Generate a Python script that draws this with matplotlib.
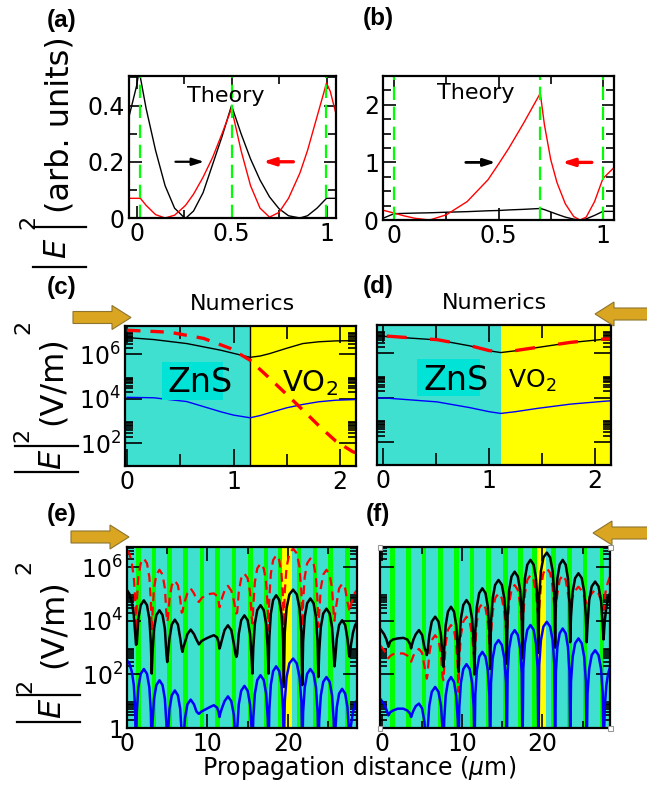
import numpy as np
import matplotlib
matplotlib.use("Agg")
import matplotlib.pyplot as plt
from matplotlib.patches import Polygon, Rectangle
from matplotlib.lines import Line2D
from matplotlib.ticker import FixedLocator, NullFormatter

# ---------------- data ----------------
# (a) theory, unit cell
A_X = [-0.04, 0.0, 0.01, 0.02, 0.05, 0.10, 0.15, 0.20, 0.25, 0.26, 0.30, 0.35, 0.40, 0.45, 0.50,
       0.55, 0.60, 0.65, 0.70, 0.75, 0.80, 0.86, 0.90, 0.95, 1.0, 1.02, 1.05]
A_BLACK = [0.36, 0.47, 0.51, 0.50, 0.39, 0.24, 0.115, 0.035, 0.002, 0.0, 0.025, 0.09, 0.19, 0.29, 0.40,
           0.30, 0.21, 0.135, 0.075, 0.033, 0.008, 0.0, 0.008, 0.035, 0.07, 0.07, 0.07]
A_RED = [0.07, 0.07, 0.07, 0.07, 0.045, 0.012, 0.0, 0.01, 0.04, 0.047, 0.085, 0.145, 0.215, 0.30, 0.39,
         0.24, 0.115, 0.035, 0.003, 0.02, 0.07, 0.16, 0.24, 0.36, 0.48, 0.45, 0.37]
A_INTERFACES = [0.02, 0.5, 0.995]

# (b) theory, defect cell
B_X = [-0.053, 0.0, 0.05, 0.10, 0.17, 0.25, 0.35, 0.45, 0.50, 0.55, 0.62, 0.70, 0.72, 0.75, 0.78,
       0.82, 0.86, 0.89, 0.92, 0.96, 1.0, 1.05]
B_RED = [0.17, 0.12, 0.07, 0.03, 0.0, 0.09, 0.32, 0.70, 0.97, 1.25, 1.68, 2.2, 1.65, 1.05, 0.65,
         0.28, 0.06, 0.0, 0.05, 0.32, 0.72, 0.9]
B_BLACK = [0.03, 0.11, 0.115, 0.12, 0.125, 0.135, 0.145, 0.16, 0.165, 0.175, 0.185, 0.2, 0.18, 0.14, 0.1,
           0.05, 0.015, 0.0, 0.02, 0.08, 0.15, 0.15]
B_INTERFACES = [0.0, 0.70, 1.0]

# (c) numerics, forward incidence (log10 of |E|^2)
C_X = [0.0, 0.25, 0.56, 0.88, 1.0, 1.155, 1.25, 1.34, 1.5, 1.65, 1.8, 1.96, 2.15]
C_BLACK = [6.76, 6.67, 6.49, 6.19, 6.05, 5.87, 5.93, 6.04, 6.28, 6.49, 6.57, 6.61, 6.62]
C_BLUE = [4.07, 4.05, 3.88, 3.42, 3.27, 3.15, 3.25, 3.38, 3.6, 3.75, 3.87, 3.94, 3.97]
C_RX = [0.0, 0.4, 0.72, 0.97, 1.155, 1.34, 1.56, 1.81, 1.96, 2.12, 2.15]
C_RED = [7.09, 7.0, 6.72, 6.27, 5.74, 4.92, 3.92, 2.75, 2.1, 1.62, 1.58]
C_IFACE = 1.155

# (d) numerics, backward incidence
D_X = [-0.057, 0.035, 0.51, 0.82, 1.0, 1.11, 1.25, 1.46, 1.77, 2.09, 2.15]
D_BLACK = [6.78, 6.76, 6.61, 6.34, 6.12, 6.04, 6.12, 6.27, 6.49, 6.64, 6.65]
D_RX = [0.035, 0.51, 0.82, 1.0, 1.11, 1.25, 1.46, 1.77, 2.09, 2.15]
D_RED = [6.78, 6.62, 6.35, 6.13, 6.05, 6.13, 6.28, 6.5, 6.65, 6.66]
D_BLUE = [4.0, 3.99, 3.82, 3.56, 3.38, 3.3, 3.38, 3.53, 3.72, 3.85, 3.87]
D_IFACE = 1.11

# (e) full structure, forward incidence (log10 of |E|^2), one row per lobe
E_X = [0.0, 0.3, 0.6, 0.85, 1.0, 1.12,
       1.22, 1.41, 1.705, 2.095, 2.485, 2.78, 2.97, 3.07,
       3.17, 3.36, 3.65, 4.035, 4.42, 4.71, 4.90, 5.0,
       5.095, 5.285, 5.57, 5.95, 6.33, 6.615, 6.805, 6.9,
       7.0, 7.21, 7.51, 7.92, 8.33, 8.63, 8.84, 8.94,
       9.3, 9.8, 10.3, 10.8, 11.2, 11.38, 11.5,
       11.605, 11.815, 12.13, 12.55, 12.97, 13.285, 13.495, 13.6,
       13.7, 13.9, 14.2, 14.6, 15.0, 15.3, 15.5, 15.6,
       15.7, 15.9, 16.2, 16.6, 17.0, 17.3, 17.5, 17.6,
       17.695, 17.885, 18.17, 18.55, 18.93, 19.215, 19.405, 19.5,
       19.615, 19.845, 20.19, 20.65, 21.11, 21.455, 21.685, 21.8,
       21.9, 22.1, 22.4, 22.8, 23.2, 23.5, 23.7, 23.8,
       23.9, 24.1, 24.4, 24.8, 25.2, 25.5, 25.7, 25.8,
       25.895, 26.085, 26.37, 26.75, 27.13, 27.415, 27.605, 27.7,
       27.85, 28.1, 28.35, 28.6]
E_BLACK = [5.14, 5.0, 4.7, 4.2, 3.6, 3.1,
           3.15, 4.07, 4.58, 4.76, 4.58, 4.07, 3.15, 2.03,
           2.78, 3.70, 4.21, 4.39, 4.21, 3.70, 2.78, 2.46,
           2.75, 3.35, 3.86, 4.04, 3.86, 3.35, 2.95, 2.84,
           3.0, 3.2, 3.5, 3.67, 3.5, 3.3, 3.18, 3.12,
           3.25, 3.33, 3.4, 3.46, 3.38, 3.2, 2.96,
           3.05, 3.3, 3.65, 3.83, 3.65, 3.14, 2.75, 2.65,
           2.75, 3.51, 4.02, 4.2, 4.02, 3.51, 2.6, 2.03,
           2.97, 3.89, 4.4, 4.58, 4.4, 3.89, 2.97, 2.03,
           3.34, 4.26, 4.77, 4.95, 4.77, 4.26, 3.34, 1.53,
           3.55, 4.47, 4.98, 5.16, 4.98, 4.47, 3.55, 1.6,
           3.22, 4.14, 4.65, 4.83, 4.65, 4.14, 3.22, 1.9,
           2.84, 3.76, 4.27, 4.45, 4.27, 3.76, 2.84, 2.3,
           2.6, 3.33, 3.84, 4.02, 3.84, 3.33, 2.75, 2.65,
           3.1, 3.55, 3.82, 3.96]
E_RED = [6.63, 6.5, 6.15, 5.6, 4.9, 3.58,
         4.71, 5.63, 6.14, 6.32, 6.14, 5.63, 4.71, 3.64,
         4.29, 5.21, 5.72, 5.9, 5.72, 5.21, 4.29, 3.96,
         4.1, 4.81, 5.32, 5.5, 5.32, 4.81, 4.3, 4.33,
         4.5, 4.75, 5.02, 5.2, 5.02, 4.8, 4.72, 4.7,
         4.85, 4.95, 5.0, 5.02, 4.92, 4.75, 4.5,
         4.6, 4.85, 5.12, 5.3, 5.12, 4.75, 4.4, 4.27,
         4.3, 5.07, 5.58, 5.76, 5.58, 5.07, 4.15, 3.9,
         4.52, 5.44, 5.95, 6.13, 5.95, 5.44, 4.52, 3.64,
         4.83, 5.75, 6.26, 6.44, 6.26, 5.75, 4.83, 3.52,
         5.08, 6.0, 6.51, 6.69, 6.51, 6.0, 5.08, 3.77,
         4.71, 5.63, 6.14, 6.32, 6.14, 5.63, 4.71, 3.77,
         4.29, 5.21, 5.72, 5.9, 5.72, 5.21, 4.29, 4.0,
         4.3, 4.69, 5.2, 5.38, 5.2, 4.69, 4.45, 4.33,
         4.6, 4.88, 5.05, 5.14]
E_BLUE = [2.52, 2.4, 2.1, 1.6, 0.8, -1.0,
          0.59, 1.51, 2.02, 2.2, 2.02, 1.51, 0.59, -1.0,
          0.17, 1.09, 1.6, 1.78, 1.6, 1.09, 0.17, -1.0,
          -0.21, 0.71, 1.22, 1.4, 1.22, 0.71, -0.21, -1.0,
          -0.55, 0.37, 0.88, 1.06, 0.88, 0.62, 0.55, 0.53,
          0.62, 0.7, 0.78, 0.85, 0.76, 0.6, 0.41,
          0.55, 0.75, 1.0, 1.18, 1.0, 0.49, -0.43, -1.0,
          -0.04, 0.88, 1.39, 1.57, 1.39, 0.88, -0.04, -1.0,
          0.36, 1.28, 1.79, 1.97, 1.79, 1.28, 0.36, -1.0,
          0.69, 1.61, 2.12, 2.3, 2.12, 1.61, 0.69, -1.0,
          0.98, 1.9, 2.41, 2.59, 2.41, 1.9, 0.98, -1.0,
          0.59, 1.51, 2.02, 2.2, 2.02, 1.51, 0.59, -1.0,
          0.29, 1.21, 1.72, 1.9, 1.72, 1.21, 0.29, -1.0,
          -0.15, 0.77, 1.28, 1.46, 1.28, 0.77, -0.15, -1.0,
          0.1, 0.6, 0.88, 1.03]

# (f) full structure, backward incidence
F_X = [-0.2, 0.3, 0.6, 0.85,
       1.05, 1.4, 2.0, 2.7, 3.2, 3.5, 3.67,
       3.77, 3.96, 4.255, 4.645, 5.035, 5.33, 5.52, 5.62,
       5.72, 5.93, 6.24, 6.655, 7.07, 7.38, 7.59, 7.69,
       7.78, 7.97, 8.25, 8.625, 9.0, 9.28, 9.47, 9.56,
       9.66, 9.86, 10.16, 10.555, 10.95, 11.25, 11.45, 11.55,
       11.65, 11.84, 12.135, 12.525, 12.915, 13.21, 13.4, 13.5,
       13.6, 13.81, 14.12, 14.535, 14.95, 15.26, 15.47, 15.57,
       15.67, 15.86, 16.155, 16.545, 16.935, 17.23, 17.42, 17.52,
       17.62, 17.82, 18.115, 18.51, 18.905, 19.2, 19.4, 19.5,
       19.6, 19.81, 20.12, 20.54, 20.955, 21.27, 21.48, 21.58,
       21.67, 21.86, 22.14, 22.515, 22.89, 23.17, 23.36, 23.45,
       23.55, 23.76, 24.065, 24.475, 24.885, 25.19, 25.4, 25.5,
       25.605, 25.815, 26.13, 26.55, 26.97, 27.285, 27.495, 27.6,
       27.75, 27.95, 28.15, 28.4]
F_BLACK = [3.71, 3.5, 3.3, 3.03,
           3.22, 3.3, 3.34, 3.36, 3.3, 3.15, 2.97,
           3.1, 3.3, 3.5, 3.65, 3.47, 3.0, 2.85, 2.72,
           2.85, 3.46, 3.97, 4.15, 3.97, 3.46, 2.6, 2.28,
           2.91, 3.83, 4.34, 4.52, 4.34, 3.83, 2.91, 2.1,
           3.16, 4.08, 4.59, 4.77, 4.59, 4.08, 3.16, 2.0,
           3.6, 4.52, 5.03, 5.21, 5.03, 4.52, 3.6, 2.2,
           3.91, 4.83, 5.34, 5.52, 5.34, 4.83, 3.91, 2.4,
           4.22, 5.14, 5.65, 5.83, 5.65, 5.14, 4.22, 2.6,
           4.66, 5.58, 6.09, 6.27, 6.09, 5.58, 4.66, 2.8,
           4.93, 5.85, 6.36, 6.54, 6.36, 5.85, 4.93, 3.0,
           4.66, 5.58, 6.09, 6.27, 6.09, 5.58, 4.66, 3.2,
           4.16, 5.08, 5.59, 5.77, 5.59, 5.08, 4.16, 3.2,
           3.85, 4.77, 5.28, 5.46, 5.28, 4.77, 3.85, 3.3,
           4.0, 4.5, 4.8, 5.02]
F_RED = [3.09, 2.9, 2.75, 2.6,
         2.68, 2.75, 2.78, 2.78, 2.7, 2.6, 2.47,
         2.55, 2.7, 2.85, 2.95, 2.8, 2.3, 2.0, 1.84,
         2.0, 2.77, 3.28, 3.46, 3.28, 2.77, 1.9, 1.78,
         2.23, 3.15, 3.66, 3.84, 3.66, 3.15, 2.23, 1.35,
         2.54, 3.46, 3.97, 4.15, 3.97, 3.46, 2.8, 2.5,
         3.04, 3.96, 4.47, 4.65, 4.47, 3.96, 3.2, 3.0,
         3.5, 4.33, 4.84, 5.02, 4.84, 4.33, 3.7, 3.5,
         3.9, 4.64, 5.15, 5.33, 5.15, 4.64, 4.0, 3.8,
         4.2, 5.01, 5.52, 5.7, 5.52, 5.01, 4.4, 4.2,
         4.5, 5.27, 5.78, 5.96, 5.78, 5.27, 4.5, 4.3,
         4.5, 5.01, 5.52, 5.7, 5.52, 5.01, 4.7, 4.59,
         4.7, 4.9, 5.12, 5.27, 5.12, 4.9, 4.72, 4.65,
         4.72, 4.85, 5.02, 5.15, 5.02, 4.75, 4.5, 4.4,
         4.9, 5.25, 5.45, 5.64]
F_BLUE = [1.1, 0.9, 0.68, 0.47,
          0.58, 0.65, 0.72, 0.72, 0.65, 0.55, 0.41,
          0.5, 0.65, 0.82, 0.91, 0.73, 0.22, -0.7, -1.0,
          -0.08, 0.84, 1.35, 1.53, 1.35, 0.84, -0.08, -1.0,
          0.29, 1.21, 1.72, 1.9, 1.72, 1.21, 0.29, -1.0,
          0.77, 1.69, 2.2, 2.38, 2.2, 1.69, 0.77, -1.0,
          1.23, 2.15, 2.66, 2.84, 2.66, 2.15, 1.23, -1.0,
          1.67, 2.59, 3.1, 3.28, 3.1, 2.59, 1.67, -1.0,
          2.04, 2.96, 3.47, 3.65, 3.47, 2.96, 2.04, -1.0,
          2.23, 3.15, 3.66, 3.84, 3.66, 3.15, 2.23, -1.0,
          2.35, 3.27, 3.78, 3.96, 3.78, 3.27, 2.35, -1.0,
          2.1, 3.02, 3.53, 3.71, 3.53, 3.02, 2.1, -1.0,
          1.73, 2.65, 3.16, 3.34, 3.16, 2.65, 1.73, -1.0,
          1.29, 2.21, 2.72, 2.9, 2.72, 2.21, 1.29, -1.0,
          0.8, 1.6, 2.0, 2.28]

# layer structure of the crystal (µm)
GREEN_LEFT = [1.1, 3.07, 5.0, 7.0, 9.05, 10.95, 13.0, 15.1, 17.0, 18.75, 21.1, 23.1, 25.0, 27.1]
GREEN_WIDTH = 0.58
DEFECT = (19.33, 20.5)

# ---------------- style ----------------
TURQ = "#40E0D0"
LIME = "#00FF00"
YEL = "#FFFF00"
GOLD = "#DAA520"
W, H = 647, 786

fig = plt.figure(figsize=(W / 100, H / 100), dpi=100)


def rect(l, t, r, b):
    return [l / W, 1 - b / H, (r - l) / W, (b - t) / H]


def fx(x):
    return x / W


def fy(y):
    return 1 - y / H


def frame(ax, major=9, minor=4.5):
    ax.tick_params(which="both", direction="in", top=True, right=True, width=1.2,
                   labelsize=17, pad=3)
    ax.tick_params(which="major", length=major)
    ax.tick_params(which="minor", length=minor)
    for s in ax.spines.values():
        s.set_linewidth(1.6)


ARROW = "-|>,head_length=0.7,head_width=0.22"

# ---- (a) ----
ax = fig.add_axes(rect(129, 76, 336, 218))
ax.plot(A_X, A_BLACK, color="k", lw=1.0)
ax.plot(A_X, A_RED, color="r", lw=1.0)
for xi in A_INTERFACES:
    ax.axvline(xi, color=LIME, lw=1.6, ls=(0, (6, 3)))
ax.set_xlim(-0.04, 1.05)
ax.set_ylim(0, 0.505)
ax.set_xticks([0, 0.5, 1])
ax.set_xticklabels(["0", "0.5", "1"], fontsize=18)
ax.set_yticks([0, 0.2, 0.4])
ax.set_yticklabels(["0", "0.2", "0.4"], fontsize=17)
ax.xaxis.set_minor_locator(FixedLocator([0.25, 0.75]))
ax.yaxis.set_minor_locator(FixedLocator([0.1, 0.3, 0.5]))
frame(ax, 9, 6)
ax.text(0.47, 0.435, "Theory", fontsize=16, ha="center", va="center")
ax.annotate("", xy=(0.37, 0.2), xytext=(0.19, 0.2),
            arrowprops=dict(arrowstyle=ARROW, color="k", lw=1.6))
ax.annotate("", xy=(0.65, 0.2), xytext=(0.84, 0.2),
            arrowprops=dict(arrowstyle=ARROW, color="r", lw=2.4))

# ---- (b) ----
ax = fig.add_axes(rect(383, 76, 614, 220))
ax.plot(B_X, B_BLACK, color="k", lw=1.0)
ax.plot(B_X, B_RED, color="r", lw=1.0)
for xi in B_INTERFACES:
    ax.axvline(xi, color=LIME, lw=1.6, ls=(0, (6, 3)))
ax.set_xlim(-0.053, 1.053)
ax.set_ylim(0, 2.5)
ax.set_xticks([0, 0.5, 1])
ax.set_xticklabels(["0", "0.5", "1"], fontsize=18)
ax.set_yticks([0, 1, 2])
ax.set_yticklabels(["0", "1", "2"], fontsize=17)
ax.xaxis.set_minor_locator(FixedLocator([0.25, 0.75]))
ax.yaxis.set_minor_locator(FixedLocator([0.25, 0.5, 0.75, 1.25, 1.5, 1.75, 2.25]))
frame(ax, 9, 6)
ax.text(0.39, 2.2, "Theory", fontsize=16, ha="center", va="center")
ax.annotate("", xy=(0.5, 1.0), xytext=(0.33, 1.0),
            arrowprops=dict(arrowstyle=ARROW, color="k", lw=2.0))
ax.annotate("", xy=(0.79, 1.0), xytext=(0.96, 1.0),
            arrowprops=dict(arrowstyle=ARROW, color="r", lw=2.4))


def log_minor(decades):
    return [m * 10.0 ** k for k in decades for m in range(2, 10)]


# ---- (c) ----
ax = fig.add_axes(rect(125, 326, 356, 466))
ax.axvspan(-1, C_IFACE, color=TURQ, lw=0)
ax.axvspan(C_IFACE, 5, color=YEL, lw=0)
ax.axvline(C_IFACE, color="k", lw=1.0)
ax.plot(C_X, 10 ** np.array(C_BLACK), color="k", lw=1.0)
ax.plot(C_X, 10 ** np.array(C_BLUE), color="b", lw=1.0)
ax.plot(C_RX, 10 ** np.array(C_RED), color="r", lw=2.4, ls=(0, (4, 3)))
ax.set_yscale("log")
ax.set_xlim(-0.02, 2.15)
ax.set_ylim(10 ** 0.98, 10 ** 7.28)
ax.set_yticks([1e2, 1e4, 1e6])
ax.set_yticklabels([r"$10^2$", r"$10^4$", r"$10^6$"], fontsize=17)
ax.yaxis.set_minor_locator(FixedLocator(log_minor([2, 4, 6])))
ax.yaxis.set_minor_formatter(NullFormatter())
ax.set_xticks([0, 1, 2])
ax.set_xticklabels(["0", "1", "2"], fontsize=17)
ax.xaxis.set_minor_locator(FixedLocator([0.5, 1.5]))
frame(ax, 12, 6)
ax.tick_params(axis="x", which="minor", length=9)
ax.add_patch(Rectangle((0.16, 0.47), 0.265, 0.27, transform=ax.transAxes,
                       facecolor="#00E3D6", edgecolor="none", zorder=3))
ax.text(0.325, 0.60, "ZnS", transform=ax.transAxes, fontsize=24, ha="center", va="center", zorder=4)
ax.text(0.80, 0.59, r"VO$_2$", transform=ax.transAxes, fontsize=21, ha="center", va="center", zorder=4)

# ---- (d) ----
ax = fig.add_axes(rect(377, 325, 611, 465))
ax.axvspan(-1, D_IFACE, color=TURQ, lw=0)
ax.axvspan(D_IFACE, 5, color=YEL, lw=0)
ax.plot(D_X, 10 ** np.array(D_BLACK), color="k", lw=1.0)
ax.plot(D_RX, 10 ** np.array(D_RED), color="r", lw=2.4, ls=(0, (6, 7)))
ax.plot(D_X, 10 ** np.array(D_BLUE), color="b", lw=1.0)
ax.set_yscale("log")
ax.set_xlim(-0.057, 2.15)
ax.set_ylim(10 ** 0.98, 10 ** 7.28)
ax.set_yticks([1e2, 1e4, 1e6])
ax.yaxis.set_minor_locator(FixedLocator(log_minor([2, 4, 6])))
ax.yaxis.set_minor_formatter(NullFormatter())
ax.set_yticklabels([])
ax.set_xticks([0, 1, 2])
ax.set_xticklabels(["0", "1", "2"], fontsize=17)
ax.xaxis.set_minor_locator(FixedLocator([0.5, 1.5]))
frame(ax, 12, 6)
ax.tick_params(axis="x", which="minor", length=9)
ax.add_patch(Rectangle((0.17, 0.49), 0.27, 0.265, transform=ax.transAxes,
                       facecolor="#00E3D6", edgecolor="none", zorder=3))
ax.text(0.34, 0.60, "ZnS", transform=ax.transAxes, fontsize=24, ha="center", va="center", zorder=4)
ax.text(0.665, 0.60, r"VO$_2$", transform=ax.transAxes, fontsize=18, ha="center", va="center", zorder=4)


# ---- (e), (f) ----
def crystal(ax, xs, black, red, blue, xlim, labels):
    ax.axvspan(-5, 40, color=TURQ, lw=0)
    for g in GREEN_LEFT:
        ax.axvspan(g, g + GREEN_WIDTH, color=LIME, lw=0)
    ax.axvspan(DEFECT[0], DEFECT[1], color=YEL, lw=0)
    ax.plot(xs, 10 ** np.array(red), color="r", lw=1.6, ls=(0, (4, 2.5)))
    ax.plot(xs, 10 ** np.array(black), color="k", lw=1.8)
    ax.plot(xs, 10 ** np.array(blue), color="b", lw=1.8)
    ax.set_yscale("log")
    ax.set_xlim(*xlim)
    ax.set_ylim(1, 10 ** 6.75)
    ax.set_yticks([1, 1e2, 1e4, 1e6])
    ax.yaxis.set_minor_locator(FixedLocator(log_minor([0, 2, 4, 6])))
    ax.yaxis.set_minor_formatter(NullFormatter())
    if labels:
        ax.set_yticklabels(["1", r"$10^2$", r"$10^4$", r"$10^6$"], fontsize=17)
    else:
        ax.set_yticklabels([])
    ax.set_xticks([0, 10, 20])
    ax.set_xticklabels(["0", "10", "20"], fontsize=17)
    ax.xaxis.set_minor_locator(FixedLocator([5, 15, 25]))
    frame(ax, 10, 5)


ax = fig.add_axes(rect(127, 547, 357, 728))
crystal(ax, E_X, E_BLACK, E_RED, E_BLUE, (0, 28.6), True)
ax = fig.add_axes(rect(380, 547, 610, 728))
crystal(ax, F_X, F_BLACK, F_RED, F_BLUE, (-0.2, 28.4), False)
for (cx, cy) in [(380, 547), (610, 547), (380, 728), (610, 728)]:
    fig.add_artist(Rectangle((fx(cx - 2.5), fy(cy + 2.5)), 5 / W, 5 / H, transform=fig.transFigure,
                             facecolor="white", edgecolor="#999999", lw=0.8, zorder=10))

# ---------------- figure texts ----------------
fig.text(fx(242), fy(304), "Numerics", fontsize=16, ha="center", va="center")
fig.text(fx(495), fy(303), "Numerics", fontsize=16, ha="center", va="center")
fig.text(fx(359), fy(768), r"Propagation distance ($\mu$m)", fontsize=17, ha="center", va="center")

for lab, (x, y) in {"(a)": (62, 20), "(b)": (378, 19), "(c)": (62, 288),
                    "(d)": (378, 287), "(e)": (62, 515), "(f)": (378, 515)}.items():
    fig.text(fx(x), fy(y), lab, fontsize=17.5, fontweight="bold", family="Liberation Sans",
             ha="center", va="center")


def e_label(bar_y, bar_x, e_c, sup1, unit, unit_c, sup2):
    for by in bar_y:
        fig.add_artist(Line2D([fx(bar_x[0]), fx(bar_x[1])], [fy(by), fy(by)],
                              transform=fig.transFigure, color="k", lw=1.6))
    fig.text(fx(e_c[0]), fy(e_c[1]), "E", style="italic", fontsize=22, rotation=90,
             ha="center", va="center")
    fig.text(fx(sup1[0]), fy(sup1[1]), "2", fontsize=16, rotation=90, ha="center", va="center")
    fig.text(fx(unit_c[0]), fy(unit_c[1]), unit, fontsize=23, rotation=90, ha="center", va="center")
    if sup2 is not None:
        fig.text(fx(sup2[0]), fy(sup2[1]), "2", fontsize=16, rotation=90, ha="center", va="center")


e_label((227, 267), (33, 86), (57, 248), (28, 222), "(arb. units)", (60, 125), None)
e_label((446, 472), (15, 78), (52, 459), (22, 435), "(V/m)", (52, 381), (23, 327))
e_label((695, 722), (17, 80), (52, 708), (25, 686), "(V/m)", (53, 624), (24, 567))

# golden incidence arrows
RIGHT = [(0, -6), (39, -6), (39, -12), (58, 0), (39, 12), (39, 6), (0, 6)]


def gold_arrow(x0, yc, direction):
    pts = [(fx(x0 + direction * dx), fy(yc + dy)) for dx, dy in RIGHT]
    fig.add_artist(Polygon(pts, closed=True, transform=fig.transFigure,
                           facecolor=GOLD, edgecolor="#8C7530", lw=0.8))


gold_arrow(73, 317.5, 1)
gold_arrow(653, 314, -1)
gold_arrow(71, 537, 1)
gold_arrow(651, 533, -1)

fig.savefig("out.png", dpi=100)
